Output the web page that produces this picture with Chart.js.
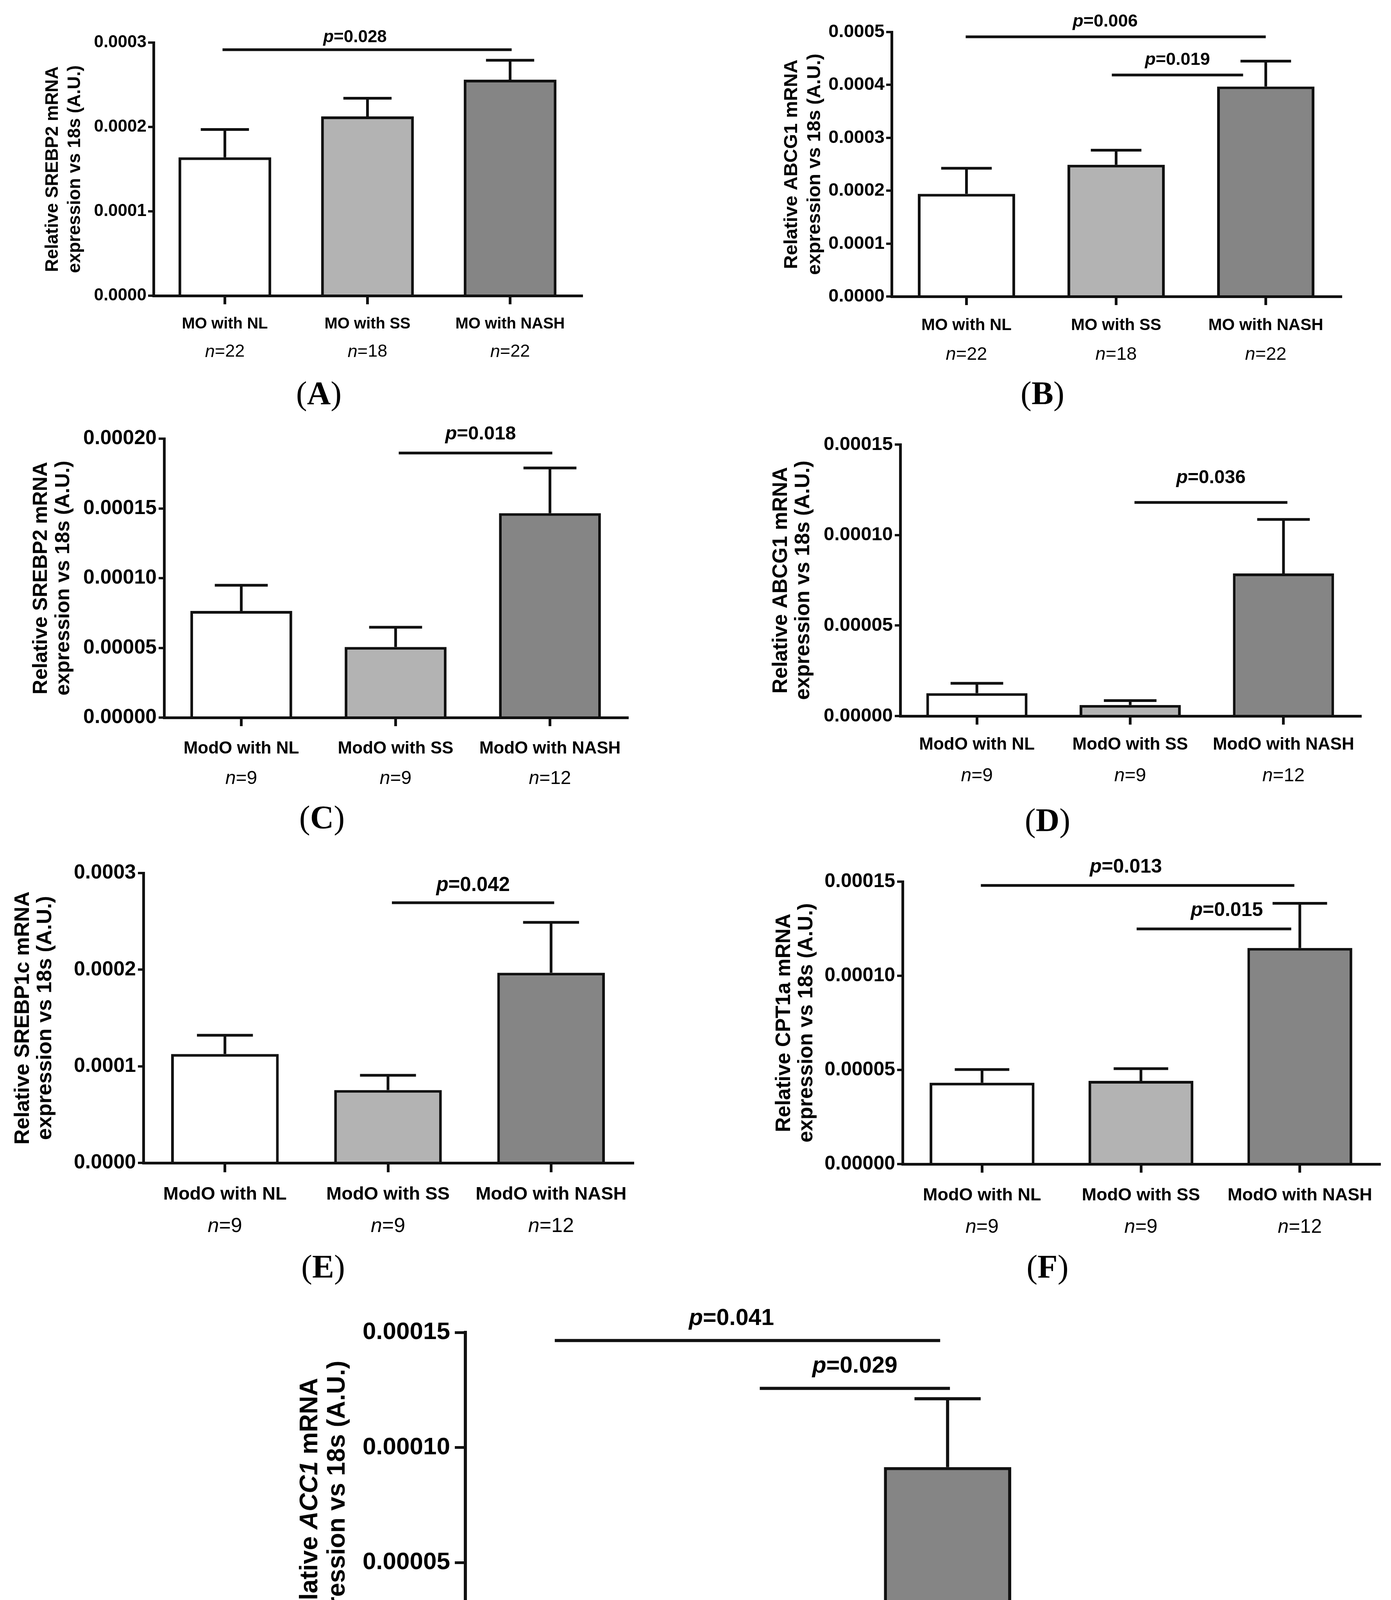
<!DOCTYPE html>
<html>
<head>
<meta charset="utf-8">
<script src="https://cdn.jsdelivr.net/npm/chart.js@4.4.1/dist/chart.umd.min.js"></script>
<style>
html, body { margin: 0; padding: 0; background: #fff; }
#page { position: relative; width: 3560px; height: 4648px; background: #fff; overflow: hidden; }
canvas { position: absolute; }
.tag { position: absolute; font-family: 'Liberation Serif', 'Times New Roman', serif; font-size: 84px; line-height: 1; transform: translate(-50%, -50%); color: #000; white-space: nowrap; }
</style>
</head>
<body>
<div id="page"></div>
<script>
// --- DADOS ---
const groupsMO = ['MO with NL', 'MO with SS', 'MO with NASH'];
const groupsModO = ['ModO with NL', 'ModO with SS', 'ModO with NASH'];
const nMO = ['22', '18', '22'];
const nModO = ['9', '9', '12'];

const srebp2MO = [0.000164, 0.0002125, 0.000256];
const srebp2MOSem = [0.000033, 0.0000215, 0.000023];
const abcg1MO = [0.000194, 0.000249, 0.000397];
const abcg1MOSem = [0.0000485, 0.0000276, 0.000048];
const srebp2ModO = [0.0000765, 0.0000506, 0.0001466];
const srebp2ModOSem = [0.0000184, 0.0000142, 0.0000324];
const abcg1ModO = [0.0000126, 0.0000061, 0.0000788];
const abcg1ModOSem = [0.0000055, 0.0000024, 0.0000298];
const srebp1cModO = [0.0001127, 0.0000754, 0.0001968];
const srebp1cModOSem = [0.0000194, 0.0000153, 0.0000522];
const cpt1aModO = [0.0000432, 0.0000442, 0.0001148];
const cpt1aModOSem = [0.000007, 0.0000065, 0.0000237];
const acc1ModO = [0.0000208, 0.0000157, 0.0000915];
const acc1ModOSem = [0.000008, 0.0000056, 0.0000297];

const ticks3 = ['0.0000', '0.0001', '0.0002', '0.0003'];
const ticks5 = ['0.0000', '0.0001', '0.0002', '0.0003', '0.0004', '0.0005'];
const ticks20 = ['0.00000', '0.00005', '0.00010', '0.00015', '0.00020'];
const ticks15 = ['0.00000', '0.00005', '0.00010', '0.00015'];

// [grupo inicial, grupo final, altura, p]
const sigA = [[0, 2, 0.0002915, '0.028']];
const sigB = [[0, 2, 0.000491, '0.006'], [1, 2, 0.0004187, '0.019']];
const sigC = [[1, 2, 0.0001897, '0.018']];
const sigD = [[1, 2, 0.000118, '0.036']];
const sigE = [[1, 2, 0.0002693, '0.042']];
const sigF = [[0, 2, 0.000148, '0.013'], [1, 2, 0.0001249, '0.015']];
const sigG = [[0, 2, 0.0001465, '0.041'], [1, 2, 0.0001257, '0.029']];

const line2 = 'expression vs 18s (A.U.)';

// --- ESTILO ---
const ink = '#111111';
const fills = ['#ffffff', '#b3b3b3', '#858585'];
const sans = "'Liberation Sans', Arial, Helvetica, sans-serif";

const panels = [
    { id: 'A', box: [0, 0, 1780, 1060], area: [393, 109, 1488, 757], groups: groupsMO, n: nMO,
      mean: srebp2MO, sem: srebp2MOSem, ticks: ticks3, sig: sigA, title: ['Relative SREBP2 mRNA', line2],
      s: { tick: 44, cat: 40, nf: 45, pf: 44, tf: 46, d: [245, 188], catPad: 27, nGap: 144, pGap: 35,
           lw: 7, tickY: 14, tickX: 22, tickPad: 4, bar: 0.65, trim: [[-6, 4]], pShift: [-31], tag: [816, 1007] } },
    { id: 'B', box: [1780, 0, 1780, 1060], area: [2282, 82, 3431, 759], groups: groupsMO, n: nMO,
      mean: abcg1MO, sem: abcg1MOSem, ticks: ticks5, sig: sigB, title: ['Relative ABCG1 mRNA', line2],
      s: { tick: 47, cat: 42, nf: 47, pf: 45, tf: 49, d: [242, 183], catPad: 27, nGap: 149, pGap: 42,
           lw: 7, tickY: 14, tickX: 22, tickPad: 4, bar: 0.65, trim: [[-2, 0], [-11, -58]], pShift: [-27, 0], tag: [2668, 1007] } },
    { id: 'C', box: [0, 1060, 1780, 1100], area: [420, 1123, 1605, 1837], groups: groupsModO, n: nModO,
      mean: srebp2ModO, sem: srebp2ModOSem, ticks: ticks20, sig: sigC, title: ['Relative SREBP2 mRNA', line2],
      s: { tick: 52, cat: 44, nf: 48, pf: 49, tf: 52, d: [300, 243], catPad: 31, nGap: 157, pGap: 52,
           lw: 7, tickY: 14, tickX: 22, tickPad: 5, bar: 0.66, trim: [[8, 6]], pShift: [13], tag: [824, 2093] } },
    { id: 'D', box: [1780, 1060, 1780, 1100], area: [2304, 1138, 3481, 1833], groups: groupsModO, n: nModO,
      mean: abcg1ModO, sem: abcg1ModOSem, ticks: ticks15, sig: sigD, title: ['Relative ABCG1 mRNA', line2],
      s: { tick: 49, cat: 44, nf: 48, pf: 48, tf: 53, d: [290, 233], catPad: 25, nGap: 154, pGap: 67,
           lw: 7, tickY: 14, tickX: 22, tickPad: 5, bar: 0.66, trim: [[11, 10]], pShift: [0], tag: [2681, 2100] } },
    { id: 'E', box: [0, 2160, 1780, 1150], area: [367, 2235, 1619, 2977], groups: groupsModO, n: nModO,
      mean: srebp1cModO, sem: srebp1cModOSem, ticks: ticks3, sig: sigE, title: ['Relative SREBP1c mRNA', line2],
      s: { tick: 52, cat: 47, nf: 52, pf: 51, tf: 54, d: [293, 236], catPad: 29, nGap: 163, pGap: 48,
           lw: 7, tickY: 14, tickX: 24, tickPad: 5, bar: 0.66, trim: [[10, 8]], pShift: [0], tag: [827, 3243] } },
    { id: 'F', box: [1780, 2160, 1780, 1150], area: [2310, 2257, 3530, 2980], groups: groupsModO, n: nModO,
      mean: cpt1aModO, sem: cpt1aModOSem, ticks: ticks15, sig: sigF, title: ['Relative CPT1a mRNA', line2],
      s: { tick: 50, cat: 45, nf: 50, pf: 50, tf: 53, d: [288, 231], catPad: 32, nGap: 162, pGap: 51,
           lw: 7, tickY: 14, tickX: 22, tickPad: 5, bar: 0.66, trim: [[-3, -14], [-11, -22]], pShift: [-30, 33], tag: [2681, 3243] } },
    { id: 'G', box: [700, 3310, 2100, 1338], area: [1191, 3411, 2672, 4295], groups: groupsModO, n: nModO,
      mean: acc1ModO, sem: acc1ModOSem, ticks: ticks15, sig: sigG, title: ['Relative *ACC1* mRNA', line2],
      s: { tick: 62, cat: 55, nf: 61, pf: 59, tf: 64, d: [379, 309], catPad: 38, nGap: 195, pGap: 61,
           lw: 8, tickY: 27, tickX: 28, tickPad: 12, bar: 0.66, trim: [[-18, -19], [13, 6]], pShift: [-41, 0], tag: [1712, 4593] } }
];

// texto com partes em itálico: '*...*'
function drawMixed(ctx, parts, x, y, align) {
    const widths = parts.map(pt => { ctx.font = pt.font; return ctx.measureText(pt.text).width; });
    const total = widths.reduce((a, b) => a + b, 0);
    let cx = align === 'center' ? x - total / 2 : x;
    ctx.textAlign = 'left';
    parts.forEach((pt, i) => {
        ctx.font = pt.font;
        ctx.fillText(pt.text, cx, y);
        cx += widths[i];
    });
}

function extras(p) {
    const s = p.s;
    return {
        id: 'extras' + p.id,
        afterDatasetsDraw(chart) {
            const ctx = chart.ctx, y = chart.scales.y;
            const meta = chart.getDatasetMeta(0);
            ctx.save();
            ctx.strokeStyle = ink;
            ctx.lineWidth = s.lw;
            meta.data.forEach((bar, i) => {
                const { x, width } = bar.getProps(['x', 'width'], true);
                const base = y.getPixelForValue(p.mean[i]);
                const top = y.getPixelForValue(p.mean[i] + p.sem[i]);
                const half = width * 0.26;
                ctx.beginPath();
                ctx.moveTo(x, base);
                ctx.lineTo(x, top);
                ctx.moveTo(x - half, top);
                ctx.lineTo(x + half, top);
                ctx.stroke();
            });
            ctx.restore();
        },
        afterDraw(chart) {
            const ctx = chart.ctx, xs = chart.scales.x, ys = chart.scales.y;
            const area = chart.chartArea;
            ctx.save();
            ctx.fillStyle = '#000';
            ctx.strokeStyle = ink;

            // linhas de significância
            p.sig.forEach((sg, k) => {
                const [from, to, val, label] = sg;
                const x0 = xs.getPixelForValue(from) + s.trim[k][0];
                const x1 = xs.getPixelForValue(to) + s.trim[k][1];
                const ly = ys.getPixelForValue(val);
                ctx.lineWidth = s.lw;
                ctx.beginPath();
                ctx.moveTo(x0, ly);
                ctx.lineTo(x1, ly);
                ctx.stroke();
                ctx.textBaseline = 'alphabetic';
                drawMixed(ctx, [
                    { text: 'p', font: `italic bold ${s.pf}px ${sans}` },
                    { text: '=' + label, font: `bold ${s.pf}px ${sans}` }
                ], (x0 + x1) / 2 + s.pShift[k], ly - s.pGap + 0.36 * s.pf, 'center');
            });

            // n por grupo
            ctx.textBaseline = 'middle';
            p.n.forEach((nv, i) => {
                drawMixed(ctx, [
                    { text: 'n', font: `italic ${s.nf}px ${sans}` },
                    { text: '=' + nv, font: `${s.nf}px ${sans}` }
                ], xs.getPixelForValue(i), area.bottom + s.nGap, 'center');
            });

            // título do eixo y (duas linhas, vertical)
            const cy = (area.top + area.bottom) / 2;
            ctx.textBaseline = 'alphabetic';
            p.title.forEach((line, k) => {
                const parts = line.split('*').map((t, j) => ({
                    text: t,
                    font: `${j % 2 ? 'italic ' : ''}bold ${s.tf}px ${sans}`
                })).filter(pt => pt.text.length);
                ctx.save();
                ctx.translate(area.left - s.d[k], cy);
                ctx.rotate(-Math.PI / 2);
                drawMixed(ctx, parts, 0, 0, 'center');
                ctx.restore();
            });
            ctx.restore();
        }
    };
}

function makeChart(p) {
    const page = document.getElementById('page');
    const [bx, by, bw, bh] = p.box;
    const [ax, ay, ar, ab] = p.area;
    const s = p.s;
    const cv = document.createElement('canvas');
    cv.width = bw;
    cv.height = bh;
    cv.style.left = bx + 'px';
    cv.style.top = by + 'px';
    cv.style.width = bw + 'px';
    cv.style.height = bh + 'px';
    page.appendChild(cv);

    const tickVals = p.ticks.map(Number);

    new Chart(cv.getContext('2d'), {
        type: 'bar',
        data: {
            labels: p.groups,
            datasets: [{
                data: p.mean,
                backgroundColor: fills,
                borderColor: ink,
                borderWidth: s.lw,
                borderSkipped: 'start',
                barPercentage: s.bar,
                categoryPercentage: 1
            }]
        },
        options: {
            responsive: false,
            animation: false,
            devicePixelRatio: 1,
            layout: { padding: { top: ay - by, right: bx + bw - ar, left: 0, bottom: 0 } },
            plugins: { legend: { display: false }, tooltip: { enabled: false } },
            scales: {
                x: {
                    offset: true,
                    grid: { offset: false, drawOnChartArea: false, drawTicks: true, tickLength: s.tickX,
                            tickWidth: s.lw, tickColor: ink, lineWidth: s.lw, color: ink },
                    border: { display: true, color: ink, width: s.lw },
                    ticks: { color: '#000', font: { family: sans, weight: 'bold', size: s.cat },
                             padding: s.catPad, maxRotation: 0, minRotation: 0, autoSkip: false },
                    afterFit: sc => { sc.height = by + bh - ab; }
                },
                y: {
                    min: 0,
                    max: tickVals[tickVals.length - 1],
                    afterBuildTicks: sc => { sc.ticks = tickVals.map(v => ({ value: v })); },
                    grid: { drawOnChartArea: false, drawTicks: true, tickLength: s.tickY,
                            tickWidth: s.lw - 1, tickColor: ink, lineWidth: s.lw - 1, color: ink },
                    border: { display: true, color: ink, width: s.lw },
                    ticks: { color: '#000', font: { family: sans, weight: 'bold', size: s.tick },
                             padding: s.tickPad, callback: (v, i) => p.ticks[i] },
                    afterFit: sc => { sc.width = ax - bx; }
                }
            }
        },
        plugins: [extras(p)]
    });

    const tag = document.createElement('div');
    tag.className = 'tag';
    tag.style.left = s.tag[0] + 'px';
    tag.style.top = s.tag[1] + 'px';
    tag.innerHTML = '(<b>' + p.id + '</b>)';
    page.appendChild(tag);
}

window.onload = () => {
    panels.forEach(makeChart);
};
</script>
</body>
</html>
